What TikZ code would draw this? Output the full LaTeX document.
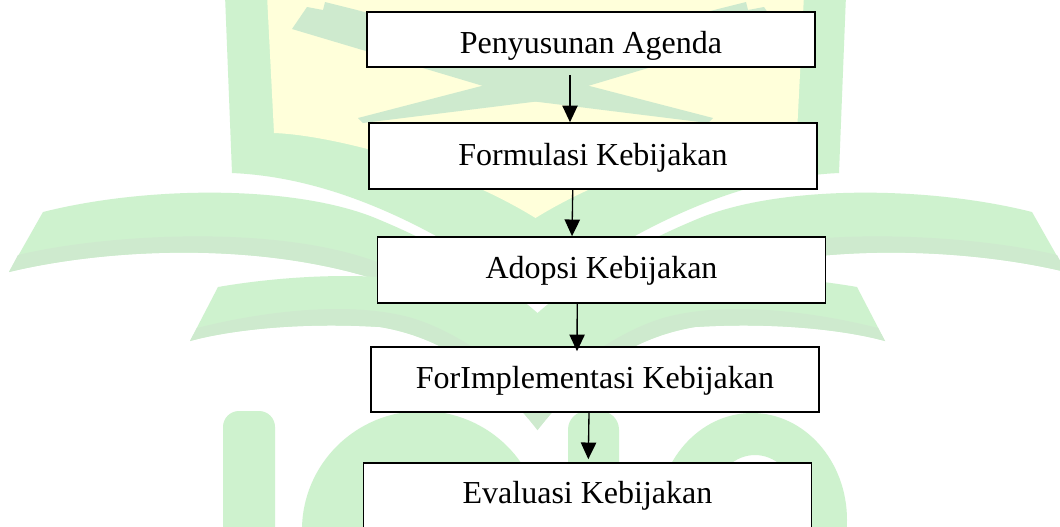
\documentclass[tikz,border=0pt]{standalone}
\usepackage{fontspec}
\setmainfont{Liberation Serif}
\usetikzlibrary{arrows.meta}
\definecolor{wmgreen}{RGB}{206,242,206}
\definecolor{wmdark}{RGB}{206,234,206}
\definecolor{wmyellow}{RGB}{255,255,218}
\newcommand\wmBandsHalf{%
  \fill[wmdark] (18,255) .. controls (100,235) and (280,222) .. (385,265) -- (390,285) -- (375,279) .. controls (250,240) and (100,250) .. (9,272) -- cycle;
}
\begin{document}
\begin{tikzpicture}[x=0.75pt,y=-0.75pt,
  box/.style={draw=black, line width=1.2pt, fill=white, rectangle,
    minimum width=336pt, inner sep=0pt, text depth=0pt,
    font=\fontsize{24pt}{28pt}\selectfont},
  arr/.style={line width=1pt, -{Triangle[length=12.5pt,width=11.5pt]}}]
\useasboundingbox (0,0) rectangle (1060,526);
\clip (0,0) rectangle (1060,526);
\fill[white] (0,0) rectangle (1060,526);
% ---- watermark: shield ----
\fill[wmgreen] (225,-5) -- (232,173) .. controls (300,176) and (400,200) .. (535.5,300)
  .. controls (671,200) and (771,176) .. (839,173) -- (846,-5) -- cycle;
\fill[wmyellow] (267,-5) -- (274,133) .. controls (330,135) and (450,165) .. (535.5,218)
  .. controls (621,165) and (741,135) .. (797,133) -- (804,-5) -- cycle;
% crossed blades
\fill[wmdark] (292,29) -- (307,7) -- (323,10) -- (325,2) -- (535.5,55) -- (746,2) -- (748,10)
  -- (764,7) -- (779,29) -- (535.5,101.6) -- cycle;
\fill[wmdark] (358,118) -- (535.5,72) -- (713,118) -- (708,123) -- (535.5,101.6) -- (363,123) -- cycle;
% ---- watermark: letters ----
\fill[wmgreen, rounded corners=12pt] (223,560) rectangle (275,411);
\fill[wmgreen, rounded corners=14pt] (568,560) rectangle (619,411);
\fill[wmgreen] (422,530) ellipse [x radius=90pt, y radius=89.25pt];
\fill[wmgreen, even odd rule] (752,520) ellipse [x radius=71.25pt, y radius=80.25pt]
  (755,510) ellipse [x radius=33.75pt, y radius=41.25pt];
% ---- watermark: open book ----
\fill[wmgreen] (43,212) .. controls (150,185) and (300,185) .. (380,220)
  .. controls (440,245) and (500,280) .. (537.5,313)
  .. controls (575,280) and (635,245) .. (695,220)
  .. controls (775,185) and (925,185) .. (1032,212) -- (1066,272)
  .. controls (975,250) and (825,240) .. (700,279) -- (537.5,335) -- (375,279)
  .. controls (250,240) and (100,250) .. (9,272) -- cycle;
\wmBandsHalf
\begin{scope}[xshift=806.25pt,xscale=-1]\wmBandsHalf\end{scope}
\fill[wmgreen] (218,287) .. controls (270,278) and (330,274) .. (380,277)
  .. controls (450,282) and (500,300) .. (537.5,320)
  .. controls (575,300) and (625,282) .. (695,277)
  .. controls (745,274) and (805,278) .. (857,287) -- (885,341)
  .. controls (845,330) and (775,322) .. (695,327)
  .. controls (615,340) and (565,395) .. (537.5,430)
  .. controls (510,395) and (460,340) .. (380,327)
  .. controls (300,322) and (230,330) .. (190,341) -- cycle;
\fill[wmdark] (197,328) .. controls (260,312) and (340,302) .. (400,315)
  .. controls (450,325) and (510,370) .. (537.5,400)
  .. controls (565,370) and (625,325) .. (675,315)
  .. controls (735,302) and (815,312) .. (878,328) -- (885,341)
  .. controls (845,330) and (775,322) .. (695,327)
  .. controls (615,340) and (565,395) .. (537.5,430)
  .. controls (510,395) and (460,340) .. (380,327)
  .. controls (300,322) and (230,330) .. (190,341) -- cycle;
% ---- diagram ----
\node[box, minimum height=41.25pt, text height=20.25pt] (b1) at (591,39.5) {Penyusunan Agenda};
\node[box, minimum height=49.5pt, text height=13.5pt] (b2) at (593,156) {Formulasi Kebijakan};
\node[box, minimum height=49.5pt, text height=12pt] (b3) at (601.5,270) {Adopsi Kebijakan};
\node[box, minimum height=48.75pt, text height=12.75pt] (b4) at (595,379.5) {ForImplementasi Kebijakan};
\node[box, minimum height=49.5pt, text height=10.5pt] (b5) at (587.5,496) {Evaluasi Kebijakan};
\draw[arr] ([xshift=-15.75pt,yshift=-5.25pt]b1.south) -- ([xshift=-17.25pt]b2.north);
\draw[arr] ([xshift=-15.2pt]b2.south) -- ([xshift=-22.1pt]b3.north);
\draw[arr] ([xshift=-18.2pt]b3.south) -- ([xshift=-13.5pt,yshift=-3.75pt]b4.north);
\draw[arr] ([xshift=-4.5pt]b4.south) -- ([xshift=0.6pt,yshift=2.25pt]b5.north);
\end{tikzpicture}
\end{document}
